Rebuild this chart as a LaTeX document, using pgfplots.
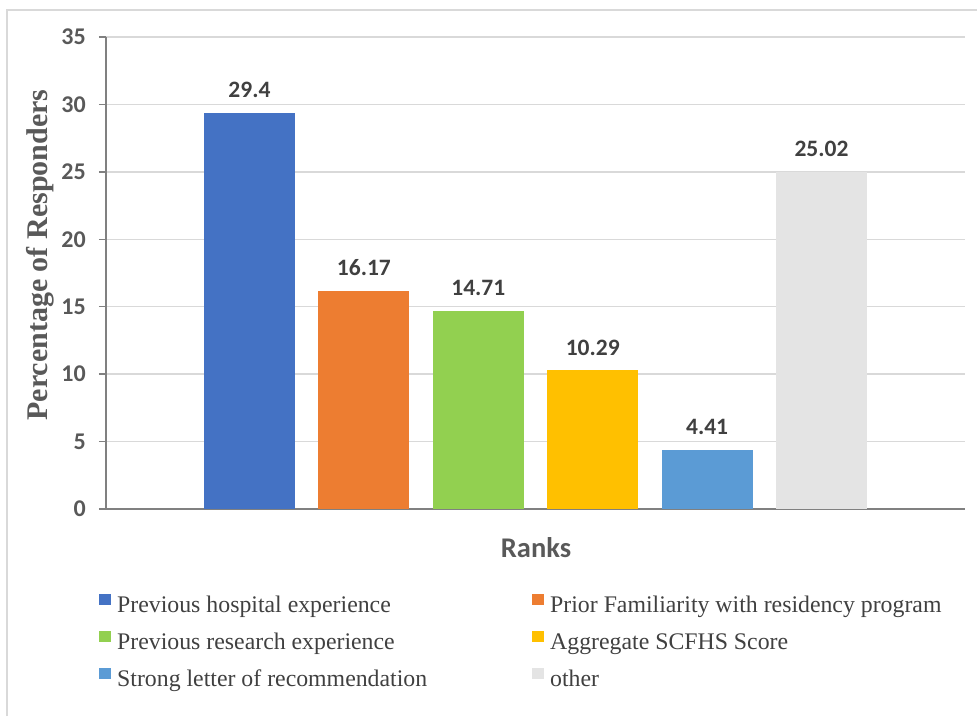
\documentclass[border=0pt]{standalone}
\usepackage{pgfplots}
\pgfplotsset{compat=1.18}
\usepackage{fontspec}
\setmainfont{Liberation Serif}
\newfontfamily\calfont{Carlito}
\definecolor{c1}{HTML}{4472C4}
\definecolor{c2}{HTML}{ED7D31}
\definecolor{c3}{HTML}{92D050}
\definecolor{c4}{HTML}{FFC000}
\definecolor{c5}{HTML}{5B9BD5}
\definecolor{c6}{HTML}{E4E4E4}
\definecolor{txt}{HTML}{404040}
\definecolor{tick}{HTML}{595959}
\definecolor{axc}{HTML}{808080}
\definecolor{gridc}{HTML}{D9D9D9}
\begin{document}
\begin{tikzpicture}[x=1pt,y=1pt]
\useasboundingbox (0,0) rectangle (977,716);
\draw[gridc, line width=1.5pt] (7,0) -- (7,706) -- (977,706);
\begin{axis}[
  at={(106pt,207pt)}, anchor=south west,
  scale only axis, width=859pt, height=472pt,
  /pgf/number format/assume math mode=true,
  ybar, bar width=91pt,
  xmin=-0.254, xmax=7.254, ymin=0, ymax=35,
  ytick={0,5,...,35}, xtick=\empty,
  axis x line=bottom, axis y line=left,
  x axis line style={-, axc, line width=2.5pt},
  y axis line style={-, axc, line width=2pt},
  tick align=outside, major tick length=7pt,
  ytick style={axc, line width=1.5pt},
  ymajorgrids, grid style={gridc, line width=1.3pt},
  yticklabel style={font=\calfont\bfseries\fontsize{24}{24}\selectfont, text=tick, inner xsep=0pt, xshift=-13pt},
  ylabel={Percentage of Responders},
  ylabel style={at={(axis description cs:-0.0768,0.538)}, anchor=center, font=\bfseries\fontsize{30}{30}\selectfont, text=tick},
  xlabel={Ranks},
  xlabel style={at={(axis description cs:0.5006,-0.1017)}, anchor=base, font=\calfont\bfseries\fontsize{28.5}{28.5}\selectfont, text=tick},
  nodes near coords,
  every node near coord/.append style={font=\calfont\bfseries\fontsize{23.5}{23.5}\selectfont, text=txt, anchor=base, yshift=15pt},
  legend columns=2,
  legend cell align=left,
  legend image code/.code={\fill (0pt,1.5pt) rectangle (12pt,13pt);},
  legend style={at={(axis description cs:-0.00815,-0.1794)}, anchor=north west, draw=none, fill=none,
    inner sep=0pt, column sep=6pt, row sep=12.5pt,
    nodes={inner sep=0pt, text height=17pt, text depth=6pt},
    font=\fontsize{23.8}{23.8}\selectfont, text=txt},
]
\addplot[fill=c1, draw=none, bar shift=0pt] coordinates {(1,29.4)};
\addlegendentry{\makebox[409pt][l]{Previous hospital experience}}
\addplot[fill=c2, draw=none, bar shift=0pt] coordinates {(2,16.17)};
\addlegendentry{Prior Familiarity with residency program}
\addplot[fill=c3, draw=none, bar shift=0pt] coordinates {(3,14.71)};
\addlegendentry{\makebox[409pt][l]{Previous research experience}}
\addplot[fill=c4, draw=none, bar shift=0pt] coordinates {(4,10.29)};
\addlegendentry{Aggregate SCFHS Score}
\addplot[fill=c5, draw=none, bar shift=0pt] coordinates {(5,4.41)};
\addlegendentry{\makebox[409pt][l]{Strong letter of recommendation}}
\addplot[fill=c6, draw=none, bar shift=0pt] coordinates {(6,25.02)};
\addlegendentry{other}
\end{axis}
\end{tikzpicture}
\end{document}
